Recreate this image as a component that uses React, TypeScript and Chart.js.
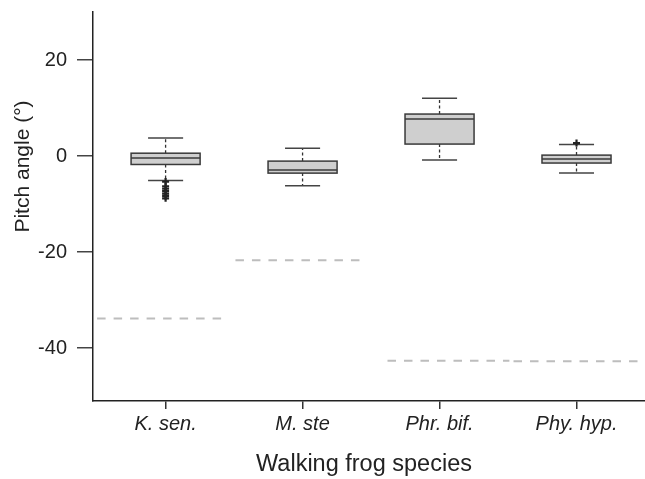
import React, { useEffect, useRef } from 'react';
import { Chart, registerables } from 'chart.js';

Chart.register(...registerables);

const categories = ['K. sen.', 'M. ste', 'Phr. bif.', 'Phy. hyp.'];
const whiskerLow = [-5.1, -6.2, -0.8, -3.5];
const q1 = [-1.75, -3.55, 2.5, -1.45];
const median = [-0.4, -2.9, 7.7, -0.6];
const q3 = [0.6, -1.05, 8.75, 0.2];
const whiskerHigh = [3.75, 1.65, 12.05, 2.4];
const outlierCat = [1, 1, 1, 1, 1, 1, 1, 4];
const outlierVal = [-5.3, -6.3, -6.8, -7.3, -7.8, -8.3, -8.8, 2.7];
const refValue = [-33.8, -21.7, -42.6, -42.7];
const refStart = [0.5, 1.51, 2.62, 3.54];
const refEnd = [1.42, 2.44, 3.51, 4.46];
const yTicks = [-40, -20, 0, 20];
const xTitle = 'Walking frog species';
const yTitle = 'Pitch angle (°)';

const FONT = '"Liberation Sans", Arial, Helvetica, sans-serif';

const boxPlugin = {
  id: 'boxes',
  beforeDatasetsDraw(chart: any) {
    const { ctx, scales } = chart;
    const xs = scales.x;
    const ys = scales.y;
    const halfBox = 0.252;
    const halfCap = 0.128;
    ctx.save();
    for (let i = 0; i < categories.length; i++) {
      const c = i + 1;
      const xc = xs.getPixelForValue(c);
      const xl = xs.getPixelForValue(c - halfBox);
      const xr = xs.getPixelForValue(c + halfBox);
      const cl = xs.getPixelForValue(c - halfCap);
      const cr = xs.getPixelForValue(c + halfCap);
      const yLo = ys.getPixelForValue(whiskerLow[i]);
      const yQ1 = ys.getPixelForValue(q1[i]);
      const yMed = ys.getPixelForValue(median[i]);
      const yQ3 = ys.getPixelForValue(q3[i]);
      const yHi = ys.getPixelForValue(whiskerHigh[i]);
      ctx.strokeStyle = '#333';
      ctx.lineWidth = 1.3;
      ctx.setLineDash([3, 2.5]);
      ctx.beginPath();
      ctx.moveTo(xc, yQ3);
      ctx.lineTo(xc, yHi);
      ctx.moveTo(xc, yQ1);
      ctx.lineTo(xc, yLo);
      ctx.stroke();
      ctx.setLineDash([]);
      ctx.strokeStyle = '#444';
      ctx.lineWidth = 1.5;
      ctx.beginPath();
      ctx.moveTo(cl, yHi);
      ctx.lineTo(cr, yHi);
      ctx.moveTo(cl, yLo);
      ctx.lineTo(cr, yLo);
      ctx.stroke();
      ctx.fillStyle = '#cfcfcf';
      ctx.fillRect(xl, yQ3, xr - xl, yQ1 - yQ3);
      ctx.strokeStyle = '#3a3a3a';
      ctx.lineWidth = 1.5;
      ctx.strokeRect(xl, yQ3, xr - xl, yQ1 - yQ3);
      ctx.beginPath();
      ctx.moveTo(xl, yMed);
      ctx.lineTo(xr, yMed);
      ctx.stroke();
    }
    ctx.restore();
  },
};

const titlePlugin = {
  id: 'titles',
  afterDraw(chart: any) {
    const { ctx } = chart;
    ctx.save();
    ctx.fillStyle = '#222';
    ctx.textAlign = 'center';
    ctx.textBaseline = 'alphabetic';
    ctx.font = `23.5px ${FONT}`;
    ctx.fillText(xTitle, 364, 471);
    ctx.font = `21px ${FONT}`;
    ctx.translate(28.5, 166.5);
    ctx.rotate(-Math.PI / 2);
    ctx.fillText(yTitle, 0, 0);
    ctx.restore();
  },
};

export default function App() {
  const ref = useRef<HTMLCanvasElement>(null);
  useEffect(() => {
    document.body.style.margin = '0';
    const datasets: any[] = [
      {
        type: 'scatter',
        data: outlierCat.map((c, i) => ({ x: c, y: outlierVal[i] })),
        pointStyle: 'cross',
        pointRadius: 3.5,
        pointHoverRadius: 3.5,
        borderColor: '#222',
        backgroundColor: '#222',
        pointBorderWidth: 2.2,
      },
    ];
    refValue.forEach((v, i) => {
      datasets.push({
        type: 'line',
        data: [
          { x: refStart[i], y: v },
          { x: refEnd[i], y: v },
        ],
        borderColor: '#bdbdbd',
        borderWidth: 2,
        borderDash: [8.5, 8],
        pointRadius: 0,
        pointHoverRadius: 0,
        fill: false,
      });
    });
    const chart = new Chart(ref.current as HTMLCanvasElement, {
      type: 'scatter',
      data: { datasets },
      plugins: [boxPlugin, titlePlugin],
      options: {
        animation: false,
        responsive: false,
        maintainAspectRatio: false,
        layout: { autoPadding: false, padding: { top: 12, right: 0, left: 0, bottom: 0 } },
        plugins: { legend: { display: false }, tooltip: { enabled: false } },
        scales: {
          x: {
            type: 'linear',
            min: 0.47,
            max: 4.5,
            afterBuildTicks: (s: any) => {
              s.ticks = categories.map((_, i) => ({ value: i + 1 }));
            },
            afterFit: (s: any) => {
              s.height = 78;
              s.paddingLeft = 0;
              s.paddingRight = 0;
              s.paddingTop = 0;
              s.paddingBottom = 0;
            },
            ticks: {
              callback: (v: any) => categories[Math.round(v) - 1] ?? '',
              font: { family: FONT, size: 20, style: 'italic' },
              color: '#222',
              padding: 3,
              maxRotation: 0,
              autoSkip: false,
            },
            grid: {
              drawOnChartArea: false,
              drawTicks: true,
              tickLength: 8,
              color: '#333',
              lineWidth: 1.5,
            },
            border: { display: true, color: '#222', width: 1.5 },
          },
          y: {
            type: 'linear',
            min: -51,
            max: 30,
            afterBuildTicks: (s: any) => {
              s.ticks = yTicks.map((v) => ({ value: v }));
            },
            afterFit: (s: any) => {
              s.width = 93;
              s.paddingLeft = 0;
              s.paddingRight = 0;
              s.paddingTop = 0;
              s.paddingBottom = 0;
            },
            ticks: {
              font: { family: FONT, size: 20 },
              color: '#222',
              padding: 10,
              autoSkip: false,
            },
            grid: {
              drawOnChartArea: false,
              drawTicks: true,
              tickLength: 16,
              color: '#444',
              lineWidth: 1.5,
            },
            border: { display: true, color: '#222', width: 1.5 },
          },
        },
      },
    });
    return () => chart.destroy();
  }, []);
  return (
    <div style={{ position: 'absolute', left: 0, top: 0, width: 645, height: 479 }}>
      <canvas ref={ref} width={645} height={479} style={{ width: 645, height: 479 }} />
    </div>
  );
}
